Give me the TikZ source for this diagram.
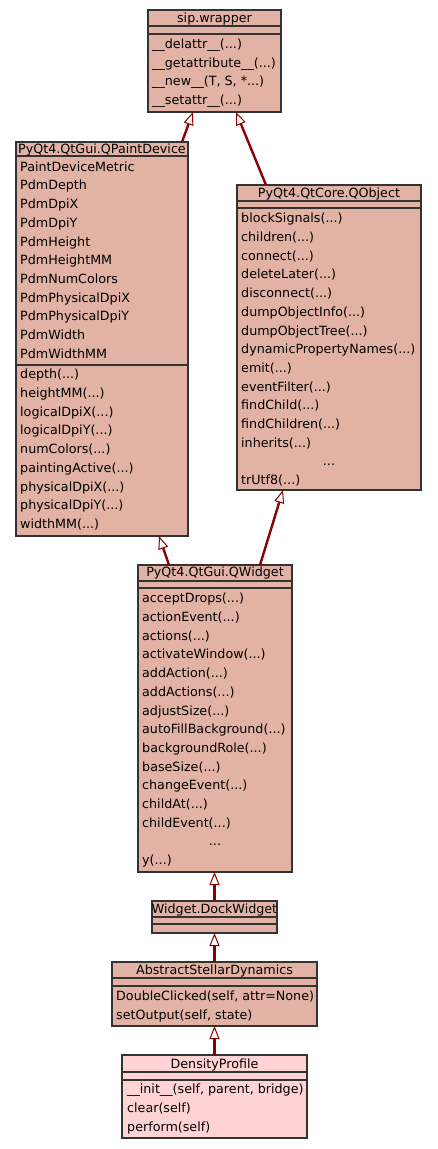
\documentclass[tikz,border=0pt]{standalone}
\usepackage{fontspec}
\setmainfont{DejaVu Sans}
\usetikzlibrary{arrows.meta,calc}
\definecolor{classfill}{HTML}{E2B2A4}
\definecolor{leaffill}{HTML}{FFD3D3}
\definecolor{inheritred}{HTML}{8B0000}
\definecolor{boxedge}{HTML}{333333}
\newcommand{\threedots}{...}
\newcommand{\callargs}{(\threedots)}
\tikzset{
  classbox/.style={draw=boxedge, fill=classfill, line width=1.3pt, anchor=north west, inner sep=0pt, outer sep=0pt},
  sepline/.style={draw=boxedge, line width=1.3pt},
  member/.style={anchor=base west, inner sep=0pt, font=\fontsize{12.7}{14}\selectfont},
  classname/.style={member, anchor=base},
  inherit/.style={draw=inheritred, line width=2.4pt, -{Triangle[fill=white, length=13pt, width=10pt, line width=1pt]}},
}

\begin{document}
\begin{tikzpicture}[x=1pt, y=-1pt]
    \useasboundingbox (0,0) rectangle (437,1149);

    % sip.wrapper
    \node[classbox, minimum width=133pt, minimum height=102pt] (sipwrapper) at (148,10) {};
    \draw[sepline] ([yshift=-16pt]sipwrapper.north west) -- ([yshift=-16pt]sipwrapper.north east);
    \draw[sepline] ([yshift=-24pt]sipwrapper.north west) -- ([yshift=-24pt]sipwrapper.north east);
    \node[classname] at (214.5,22.5) {sip.wrapper};
    \foreach \mbr [count=\i from 0] in {\_\_delattr\_\_\callargs, \_\_getattribute\_\_\callargs, {\_\_new\_\_(T, S, *\threedots)}, \_\_setattr\_\_\callargs}
        \node[member] at (152,{48.5+18.7*\i}) {\mbr};

    % PyQt4.QtGui.QPaintDevice
    \node[classbox, minimum width=172pt, minimum height=394pt] (paintdevice) at (16,142) {};
    \draw[sepline] ([yshift=-14pt]paintdevice.north west) -- ([yshift=-14pt]paintdevice.north east);
    \draw[sepline] ([yshift=-223pt]paintdevice.north west) -- ([yshift=-223pt]paintdevice.north east);
    \node[classname] at (102,153.5) {PyQt4.QtGui.QPaintDevice};
    \foreach \mbr [count=\i from 0] in {PaintDeviceMetric, PdmDepth, PdmDpiX, PdmDpiY, PdmHeight, PdmHeightMM, PdmNumColors, PdmPhysicalDpiX, PdmPhysicalDpiY, PdmWidth, PdmWidthMM}
        \node[member] at (20,{171.2+18.7*\i}) {\mbr};
    \foreach \mbr [count=\i from 0] in {depth, heightMM, logicalDpiX, logicalDpiY, numColors, paintingActive, physicalDpiX, physicalDpiY, widthMM}
        \node[member] at (20,{378.8+18.7*\i}) {\mbr\callargs};

    % PyQt4.QtCore.QObject
    \node[classbox, minimum width=184pt, minimum height=305pt] (qobject) at (237,185) {};
    \draw[sepline] ([yshift=-16pt]qobject.north west) -- ([yshift=-16pt]qobject.north east);
    \draw[sepline] ([yshift=-23pt]qobject.north west) -- ([yshift=-23pt]qobject.north east);
    \node[classname] at (329,197) {PyQt4.QtCore.QObject};
    \foreach \mbr [count=\i from 0] in {blockSignals, children, connect, deleteLater, disconnect, dumpObjectInfo, dumpObjectTree, dynamicPropertyNames, emit, eventFilter, findChild, findChildren, inherits}
        \node[member] at (241,{222.8+18.7*\i}) {\mbr\callargs};
    \node[classname] at (329,465) {...};
    \node[member] at (241,484.6) {trUtf8(...)};

    % PyQt4.QtGui.QWidget
    \node[classbox, minimum width=154pt, minimum height=307pt] (qwidget) at (138,565) {};
    \draw[sepline] ([yshift=-16pt]qwidget.north west) -- ([yshift=-16pt]qwidget.north east);
    \draw[sepline] ([yshift=-23pt]qwidget.north west) -- ([yshift=-23pt]qwidget.north east);
    \node[classname] at (215,576.5) {PyQt4.QtGui.QWidget};
    \foreach \mbr [count=\i from 0] in {acceptDrops, actionEvent, actions, activateWindow, addAction, addActions, adjustSize, autoFillBackground, backgroundRole, baseSize, changeEvent, childAt, childEvent}
        \node[member] at (142,{602.8+18.7*\i}) {\mbr\callargs};
    \node[classname] at (215,845) {...};
    \node[member] at (142,864.6) {y(...)};

    % Widget.DockWidget
    \node[classbox, minimum width=125pt, minimum height=32pt] (dockwidget) at (152,901) {};
    \draw[sepline] ([yshift=-16pt]dockwidget.north west) -- ([yshift=-16pt]dockwidget.north east);
    \draw[sepline] ([yshift=-23pt]dockwidget.north west) -- ([yshift=-23pt]dockwidget.north east);
    \node[classname] at (214.5,913) {Widget.DockWidget};

    % AbstractStellarDynamics
    \node[classbox, minimum width=205pt, minimum height=64pt] (stellardyn) at (112,962) {};
    \draw[sepline] ([yshift=-16pt]stellardyn.north west) -- ([yshift=-16pt]stellardyn.north east);
    \draw[sepline] ([yshift=-24pt]stellardyn.north west) -- ([yshift=-24pt]stellardyn.north east);
    \node[classname] at (214.5,974) {AbstractStellarDynamics};
    \foreach \mbr [count=\i from 0] in {{DoubleClicked(self, attr=None)}, {setOutput(self, state)}}
        \node[member] at (116,{1000.5+18.7*\i}) {\mbr};

    % DensityProfile
    \node[classbox, fill=leaffill, minimum width=185pt, minimum height=83pt] (densityprofile) at (122,1055) {};
    \draw[sepline] ([yshift=-17pt]densityprofile.north west) -- ([yshift=-17pt]densityprofile.north east);
    \draw[sepline] ([yshift=-25pt]densityprofile.north west) -- ([yshift=-25pt]densityprofile.north east);
    \node[classname] at (214.5,1068) {DensityProfile};
    \foreach \mbr [count=\i from 0] in {{\_\_init\_\_(self, parent, bridge)}, {clear(self)}, {perform(self)}}
        \node[member] at (127,{1093.8+18.7*\i}) {\mbr};

    % Inheritance
    \draw[inherit] ([xshift=-6pt]paintdevice.north east) -- ([xshift=-21.5pt]sipwrapper.south);
    \draw[inherit] ([xshift=-63pt]qobject.north) -- ([xshift=21.5pt]sipwrapper.south);
    \draw[inherit] ([xshift=31pt]qwidget.north west) -- ([xshift=-29pt]paintdevice.south east);
    \draw[inherit] ([xshift=-32pt]qwidget.north east) -- ([xshift=46pt]qobject.south west);
    \draw[inherit] (dockwidget.north) -- (dockwidget.north |- qwidget.south);
    \draw[inherit] (stellardyn.north) -- (stellardyn.north |- dockwidget.south);
    \draw[inherit] (densityprofile.north) -- (densityprofile.north |- stellardyn.south);

\end{tikzpicture}
\end{document}
